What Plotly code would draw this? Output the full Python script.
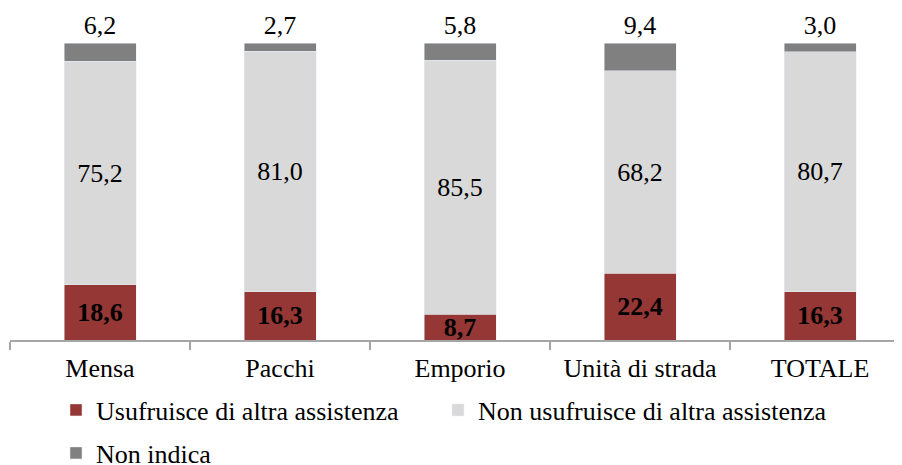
import plotly.graph_objects as go

# Dati (%)
categorie = ["Mensa", "Pacchi", "Emporio", "Unità di strada", "TOTALE"]
usufruisce = [18.6, 16.3, 8.7, 22.4, 16.3]
non_usufruisce = [75.2, 81.0, 85.5, 68.2, 80.7]
non_indica = [6.2, 2.7, 5.8, 9.4, 3.0]

FONT = "Liberation Serif, Times New Roman, serif"
W, H = 894, 457  # la pagina aggiunge 8px di margine

fig = go.Figure()

fig.add_trace(go.Bar(
    x=categorie, y=usufruisce,
    name="Usufruisce di altra assistenza",
    marker_color="#953735",
    texttemplate="<b>%{y:.1f}</b>",
    textposition="inside", insidetextanchor="middle",
    textfont=dict(family=FONT, size=26, color="black"),
    legend="legend",
))
fig.add_trace(go.Bar(
    x=categorie, y=non_usufruisce,
    name="Non usufruisce di altra assistenza",
    marker_color="#D9D9D9",
    texttemplate="%{y:.1f}",
    textposition="inside", insidetextanchor="middle",
    textfont=dict(family=FONT, size=26, color="black"),
    legend="legend2",
))
fig.add_trace(go.Bar(
    x=categorie, y=non_indica,
    name="Non indica",
    marker_color="#808080",
    texttemplate="%{y:.1f}",
    textposition="outside",
    textfont=dict(family=FONT, size=26, color="black"),
    cliponaxis=False,
    legend="legend3",
))


def leg(x_px, y_px):
    return dict(
        orientation="h", xref="container", yref="container",
        x=(x_px - 8) / W, y=1 - (y_px - 8) / H,
        xanchor="left", yanchor="middle",
        font=dict(family=FONT, size=26, color="black"),
        bgcolor="rgba(0,0,0,0)",
    )


plot_w = W - 2
fig.update_layout(
    width=W, height=H,
    barmode="stack", bargap=0.6,
    separators=",.",
    margin=dict(l=2, r=0, t=35, b=125),
    plot_bgcolor="white", paper_bgcolor="white",
    font=dict(family=FONT, size=26, color="black"),
    showlegend=True,
    legend=leg(56, 410),
    legend2=leg(438, 410),
    legend3=leg(56, 453),
)
fig.update_traces(constraintext="none")
fig.update_xaxes(
    type="category", range=[-0.5, -0.5 + plot_w / 180],
    showline=True, linecolor="#A6A6A6", linewidth=1.5,
    ticks="outside", tickson="boundaries", ticklen=8,
    tickcolor="#A6A6A6", tickwidth=1.5,
    ticklabelstandoff=4,
    tickfont=dict(family=FONT, size=26, color="black"),
    showgrid=False,
)
fig.update_yaxes(range=[0, 100.001], visible=False, showgrid=False)

fig.write_html("out.html")
